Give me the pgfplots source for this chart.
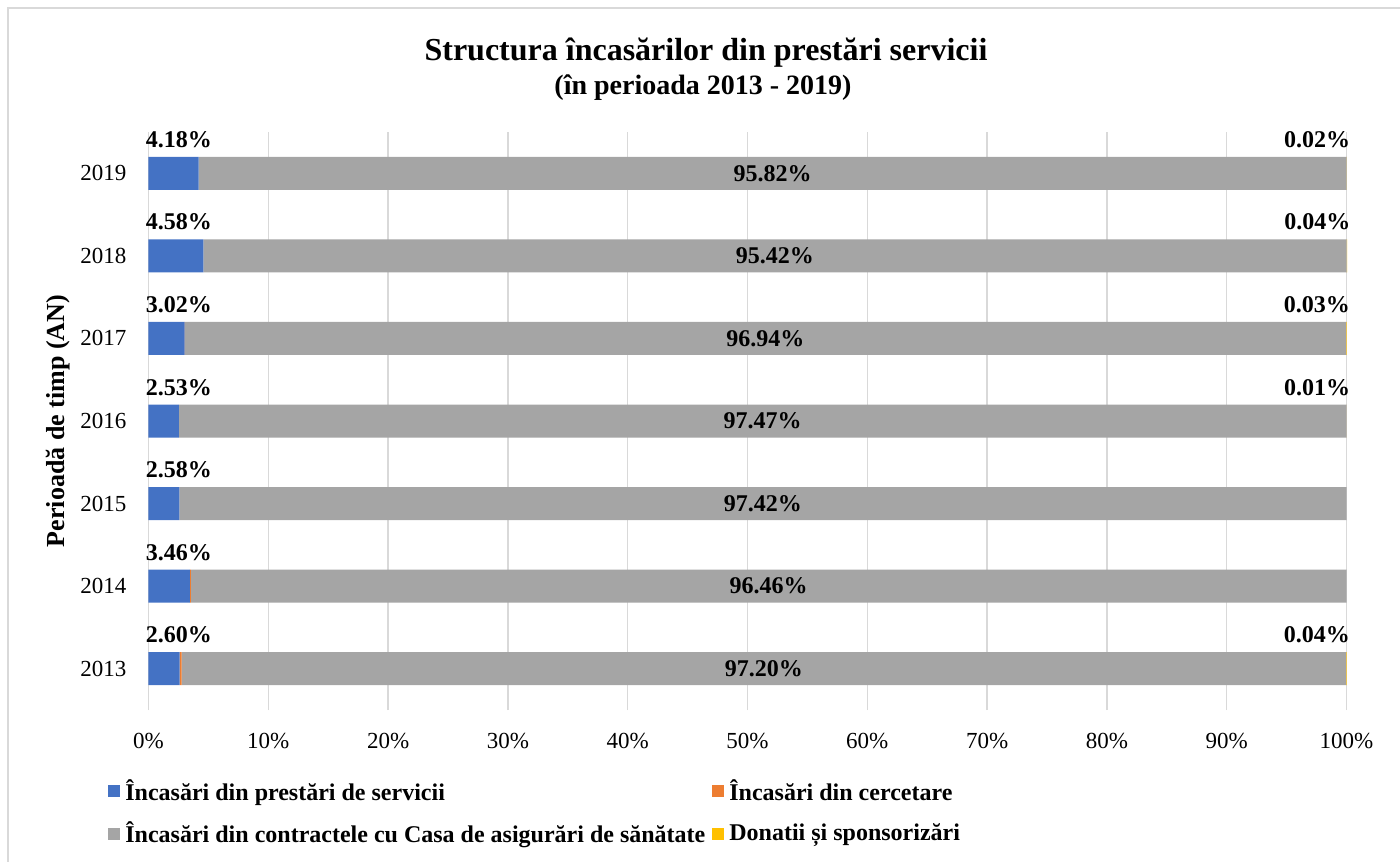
\documentclass[border=0pt]{standalone}
\usepackage{fontspec}
\setmainfont{Liberation Serif}
\usepackage{pgfplots}
\usepackage{pgfplotstable}
\pgfplotsset{compat=1.18}
\definecolor{cblue}{HTML}{4472C4}
\definecolor{corange}{HTML}{ED7D31}
\definecolor{cgray}{HTML}{A5A5A5}
\definecolor{cyellow}{HTML}{FFC000}
\definecolor{cgrid}{HTML}{D9D9D9}

\pgfplotstableread{
idx blue orange gray yellow
0 2.60 0.16 97.20 0.04
1 3.46 0.08 96.46 0.00
2 2.58 0.00 97.42 0.00
3 2.53 0.00 97.47 0.01
4 3.02 0.01 96.94 0.03
5 4.58 0.00 95.42 0.04
6 4.18 0.00 95.82 0.02
}\datatable

\newcommand{\lblfont}{\bfseries\fontsize{12}{14}\selectfont}
\newcommand{\pctlabel}{\pgfmathfloatifflags{\pgfplotspointmeta}{0}{}{\pgfmathprintnumber[fixed,fixed zerofill,precision=2,assume math mode=true]{\pgfplotspointmeta}\%}}

\begin{document}
\begin{tikzpicture}
\useasboundingbox (0,0) rectangle (700pt,-430.5pt);
\draw[cgrid, line width=1pt] (3.75pt,-432pt) -- (3.75pt,-4pt) -- (702pt,-4pt);
\begin{axis}[
  at={(74.25pt,-355pt)}, anchor=south west,
  scale only axis, width=599pt, height=289pt,
  xbar stacked, bar width=16.5pt,
  xmin=0, xmax=100, ymin=-0.5, ymax=6.5,
  enlargelimits=false, clip=false,
  axis line style={draw=none},
  major tick length=0pt,
  xmajorgrids, grid style={cgrid, line width=0.75pt},
  xtick={0,10,...,100},
  xticklabel={\pgfmathprintnumber[assume math mode=true]{\tick}\%},
  xticklabel style={anchor=north, inner sep=0pt, yshift=-11.3pt, font=\fontsize{11.5}{13}\selectfont},
  ytick={0,...,6},
  yticklabels={2013,2014,2015,2016,2017,2018,2019},
  yticklabel style={anchor=east, inner sep=0pt, xshift=-10.9pt, font=\fontsize{11.5}{13}\selectfont},
  ylabel={Perioadă de timp (AN)},
  ylabel style={at={(rel axis cs:-0.0697,0.5)}, anchor=base, font=\bfseries\fontsize{13}{15}\selectfont},
  /pgf/number format/assume math mode=true,
  legend columns=2,
  legend cell align=left,
  legend image code/.code={\fill[#1] (0pt,-3pt) rectangle (6pt,3pt);},
  legend style={draw=none, fill=none, inner sep=0pt,
    at={(rel axis cs:0,0)}, anchor=north west, xshift=-20.25pt, yshift=-34.5pt,
    font=\lblfont, nodes={inner sep=0pt}, row sep=9.2pt,
    /tikz/every odd column/.append style={column sep=2.5pt},
    /tikz/every even column/.append style={column sep=3.5pt}},
]
\addplot[fill=cblue, draw=none, point meta=explicit,
  nodes near coords={\pctlabel},
  visualization depends on={\thisrow{blue} \as \bv},
  nodes near coords style={anchor=base west, inner sep=0pt, font=\lblfont, text=black,
    xshift={-\bv*2.995pt-1.5pt}, yshift=13pt}]
  table[x=blue, y=idx, meta=blue] {\datatable};
\addlegendentry{Încasări din prestări de servicii}
\addplot[fill=corange, draw=none] table[x=orange, y=idx] {\datatable};
\addlegendentry{Încasări din cercetare}
\addplot[fill=cgray, draw=none, point meta=explicit,
  nodes near coords={\pctlabel},
  nodes near coords style={anchor=center, inner sep=0pt, font=\lblfont, text=black}]
  table[x=gray, y=idx, meta=gray] {\datatable};
\addlegendentry{Încasări din contractele cu Casa de asigurări de sănătate}
\addplot[fill=cyellow, draw=none, point meta=explicit,
  nodes near coords={\pctlabel},
  nodes near coords style={anchor=base east, inner sep=0pt, font=\lblfont, text=black,
    xshift=2pt, yshift=13pt}]
  table[x=yellow, y=idx, meta=yellow] {\datatable};
\addlegendentry{Donatii și sponsorizări}
\end{axis}
\node[anchor=base, font=\bfseries\fontsize{16}{19}\selectfont] at (353pt,-30.5pt) {Structura încasărilor din prestări servicii};
\node[anchor=base, font=\bfseries\fontsize{14}{17}\selectfont] at (351.5pt,-47.5pt) {(în perioada 2013 - 2019)};
\end{tikzpicture}
\end{document}
